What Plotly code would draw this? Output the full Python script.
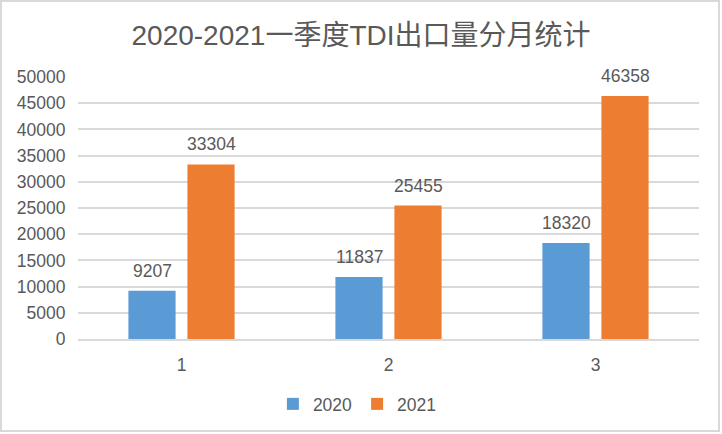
import plotly.graph_objects as go

categories = ["1", "2", "3"]
series_names = ["2020", "2021"]
values_2020 = [9207, 11837, 18320]
values_2021 = [33304, 25455, 46358]
y_ticks = [0, 5000, 10000, 15000, 20000, 25000, 30000, 35000, 40000, 45000, 50000]
title_text = "2020-2021一季度TDI出口量分月统计"

W, H = 722, 434
L, R, T, B = 78, 23, 77, 95
FONT = "Liberation Sans, Arial, Noto Sans CJK SC, sans-serif"
TXT = "#595959"
FS = 17.5
colors = ["#5b9bd5", "#ed7d31"]

fig = go.Figure()
for name, vals, c in zip(series_names, [values_2020, values_2021], colors):
    fig.add_trace(go.Bar(x=categories, y=vals, name=name, marker=dict(color=c, line=dict(width=0))))

# data labels (positioned by category index on the category axis)
offsets = [-29.5, 29.5]
for vals, dx in zip([values_2020, values_2021], offsets):
    for i, v in enumerate(vals):
        fig.add_annotation(x=i, y=v, text=str(v), showarrow=False, xshift=dx, yshift=20,
                           yanchor="middle", font=dict(family=FONT, size=FS, color=TXT))

pw = W - L - R
ph = H - T - B
fig.add_shape(type="rect", xref="paper", yref="paper",
              x0=(1 - L) / pw, x1=(W - 3 - L) / pw,
              y0=-(H - 3 - T - ph) / ph, y1=(T - 1) / ph + 1,
              line=dict(color="#d9d9d9", width=2), fillcolor="rgba(0,0,0,0)", layer="below")

fig.update_layout(
    width=W, height=H,
    margin=dict(l=L, r=R, t=T, b=B, autoexpand=False),
    paper_bgcolor="white", plot_bgcolor="white",
    barmode="group", bargap=0.43, bargroupgap=0.2,
    title=dict(text=title_text, x=0.5, xref="container", xanchor="center",
               y=1 - 35 / H, yref="container", yanchor="middle",
               font=dict(family=FONT, size=28, color=TXT)),
    font=dict(family=FONT, size=FS, color=TXT),
    legend=dict(orientation="h", xref="container", yref="container", x=0.495, xanchor="center",
                y=1 - 404 / H, yanchor="middle", font=dict(family=FONT, size=FS, color=TXT),
                itemwidth=30, tracegroupgap=0),
    xaxis=dict(type="category", range=[-0.5, len(categories) - 0.5], showgrid=False,
               showline=True, linecolor="#d9d9d9", linewidth=1.5,
               ticks="outside", ticklen=9, tickcolor="rgba(0,0,0,0)",
               tickfont=dict(family=FONT, size=FS, color=TXT)),
    yaxis=dict(range=[0, 50000], tickvals=y_ticks, ticktext=[str(v) for v in y_ticks],
               showgrid=True, gridcolor="#d9d9d9", gridwidth=1.5, zeroline=False,
               ticks="outside", ticklen=8, tickcolor="rgba(0,0,0,0)",
               tickfont=dict(family=FONT, size=FS, color=TXT)),
)

fig.write_html("out.html", config={"displayModeBar": False},
               post_script="document.body.style.margin='0px';")
